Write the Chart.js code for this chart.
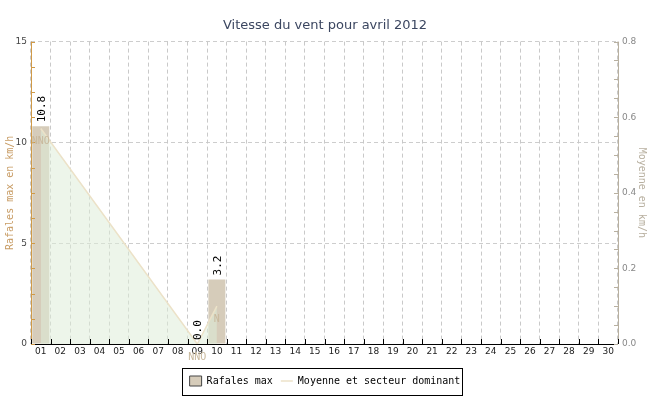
<!DOCTYPE html>
<html><head><meta charset="utf-8">
<script src="https://cdn.jsdelivr.net/npm/chart.js@4"></script>
<style>html,body{margin:0;padding:0;background:#fff}#w{width:650px;height:400px}</style>
</head><body><div id="w"><canvas id="c"></canvas></div>
<script>
const days = ['01','02','03','04','05','06','07','08','09','10','11','12','13','14','15','16','17','18','19','20','21','22','23','24','25','26','27','28','29','30'];
const gusts = [10.8,null,null,null,null,null,null,null,0.0,3.2,null,null,null,null,null,null,null,null,null,null,null,null,null,null,null,null,null,null,null,null];
const meanSpeed = [0.57,null,null,null,null,null,null,null,0.0,0.1,null,null,null,null,null,null,null,null,null,null,null,null,null,null,null,null,null,null,null,null];
const sectors = ['NNO','','','','','','','','NNO','N','','','','','','','','','','','','','','','','','','','',''];
const leftTicks = [0,5,10,15];
const rightTicks = [0.0,0.2,0.4,0.6,0.8];

const BAR = 'rgb(214,204,186)';
const LINE = 'rgb(236,226,200)';
const FILL = 'rgba(222,236,216,0.55)';

const deco = {
  id:'deco',
  afterDatasetsDraw(chart){
    const ctx = chart.ctx, ca = chart.chartArea, x = chart.scales.x, y = chart.scales.y, y2 = chart.scales.y2;
    ctx.save();
    ctx.lineWidth = 1;
    ctx.strokeStyle = '#d09a48';
    ctx.beginPath(); ctx.moveTo(Math.round(ca.left) + 0.5, ca.top); ctx.lineTo(Math.round(ca.left) + 0.5, ca.bottom); ctx.stroke();
    ctx.strokeStyle = '#b8b0a0';
    ctx.beginPath(); ctx.moveTo(Math.round(ca.right) + 0.5, ca.top); ctx.lineTo(Math.round(ca.right) + 0.5, ca.bottom); ctx.stroke();
    ctx.strokeStyle = '#000';
    ctx.beginPath(); ctx.moveTo(ca.left, Math.round(ca.bottom) + 0.5); ctx.lineTo(ca.right, Math.round(ca.bottom) + 0.5); ctx.stroke();
    ctx.strokeStyle = '#d09a48';
    for (let v = 0; v <= 15.001; v += 1.25) {
      const py = Math.round(y.getPixelForValue(v)) + 0.5;
      ctx.beginPath(); ctx.moveTo(ca.left, py); ctx.lineTo(ca.left + 4, py); ctx.stroke();
    }
    ctx.strokeStyle = '#b8b0a0';
    for (let v = 0; v <= 0.8001; v += 0.05) {
      const py = Math.round(y2.getPixelForValue(v)) + 0.5;
      ctx.beginPath(); ctx.moveTo(ca.right - 4, py); ctx.lineTo(ca.right, py); ctx.stroke();
    }
    ctx.strokeStyle = '#000';
    const step = x.getPixelForValue(1) - x.getPixelForValue(0);
    for (let i = 0; i <= days.length; i++) {
      const px = Math.round(x.getPixelForValue(i) - step / 2) + 0.5;
      ctx.beginPath(); ctx.moveTo(px, ca.bottom); ctx.lineTo(px, ca.bottom - 5); ctx.stroke();
    }
    ctx.fillStyle = '#000';
    ctx.font = '11px "DejaVu Sans Mono"';
    ctx.textAlign = 'left'; ctx.textBaseline = 'middle';
    gusts.forEach((v, i) => {
      if (v === null) return;
      const px = x.getPixelForValue(i), py = y.getPixelForValue(v);
      ctx.save(); ctx.translate(px + 1, py - 4); ctx.rotate(-Math.PI / 2);
      ctx.fillText(v.toFixed(1), 0, 0); ctx.restore();
    });
    ctx.fillStyle = 'rgb(200,184,156)';
    ctx.font = '10px "DejaVu Sans Mono"';
    ctx.textAlign = 'center';
    sectors.forEach((s, i) => {
      if (!s || meanSpeed[i] === null) return;
      const px = x.getPixelForValue(i), py = y2.getPixelForValue(meanSpeed[i]);
      ctx.fillText(s, px, py + 13);
    });
    ctx.restore();
  },
  afterDraw(chart){
    const lg = chart.legend, ctx = chart.ctx;
    const hb = lg.legendHitBoxes;
    if (!hb || !hb.length) return;
    const l = Math.min(...hb.map(h => h.left)) - 8;
    const r = Math.max(...hb.map(h => h.left + h.width)) + 1;
    const t = hb[0].top - 8, b = hb[0].top + hb[0].height + 9;
    ctx.save(); ctx.strokeStyle = '#000'; ctx.lineWidth = 1;
    ctx.strokeRect(Math.round(l) + 0.5, Math.round(t) + 0.5, Math.round(r - l), Math.round(b - t));
    ctx.restore();
  }
};

new Chart(document.getElementById('c'), {
  data: {
    labels: days,
    datasets: [
      { type:'line', label:'Moyenne et secteur dominant', data: meanSpeed, yAxisID:'y2',
        borderColor: LINE, backgroundColor: FILL, borderWidth: 1.5, fill:'origin', spanGaps:true,
        pointRadius:0, tension:0, order:0 },
      { type:'bar', label:'Rafales max', data: gusts, yAxisID:'y', backgroundColor: BAR,
        barPercentage: 0.87, categoryPercentage: 1.0, order:1 }
    ]
  },
  options: {
    responsive:true, maintainAspectRatio:false, animation:false,
    layout:{ padding:{ top:0, left:0, right:0, bottom:4 } },
    plugins:{
      title:{ display:true, text:'Vitesse du vent pour avril 2012', color:'#3b4660',
        font:{ family:'"DejaVu Sans"', size:13, weight:'normal' }, padding:{ top:18, bottom:8 } },
      tooltip:{ enabled:false },
      legend:{ position:'bottom', labels:{
        font:{ family:'"DejaVu Sans Mono"', size:10 }, color:'#000', boxWidth:10, boxHeight:10, padding:8,
        usePointStyle:true, pointStyleWidth:12,
        generateLabels(chart){
          return [
            { text:'Rafales max', fillStyle: BAR, strokeStyle:'#444', lineWidth:1, pointStyle:'rect', datasetIndex:1 },
            { text:'Moyenne et secteur dominant', fillStyle: LINE, strokeStyle: LINE, lineWidth:1.5, pointStyle:'line', datasetIndex:0 }
          ];
        }
      }}
    },
    scales:{
      x:{ offset:true,
        afterFit(s){ s.height = 24; },
        grid:{ offset:true, color:'rgba(195,195,195,0.9)', drawTicks:false },
        border:{ display:false, dash:[4,3] },
        ticks:{ color:'#222', font:{ family:'"DejaVu Sans"', size:9 }, padding:2, maxRotation:0, autoSkip:false } },
      y:{ position:'left', min:0, max:15,
        afterBuildTicks(s){ s.ticks = leftTicks.map(v => ({ value:v })); },
        afterFit(s){ s.width = 31; },
        grid:{ color:'rgba(200,200,200,0.9)', drawTicks:false },
        border:{ display:false, dash:[4,3] },
        title:{ display:true, text:'Rafales max en km/h', color:'#c89c64', font:{ family:'"DejaVu Sans Mono"', size:10 }, padding:{ top:4, bottom:0 } },
        ticks:{ color:'#444', font:{ family:'"DejaVu Sans"', size:9 }, padding:4 } },
      y2:{ position:'right', min:0, max:0.8,
        afterBuildTicks(s){ s.ticks = rightTicks.map(v => ({ value:v })); },
        afterFit(s){ s.width = 32; },
        grid:{ display:false, drawTicks:false },
        border:{ display:false },
        title:{ display:true, text:'Moyenne en km/h', color:'#b8b0a0', font:{ family:'"DejaVu Sans Mono"', size:10 }, padding:{ top:2, bottom:0 } },
        ticks:{ color:'#888', font:{ family:'"DejaVu Sans"', size:9 }, padding:4, callback:v => v.toFixed(1) } }
    }
  },
  plugins:[deco]
});
</script></body></html>
